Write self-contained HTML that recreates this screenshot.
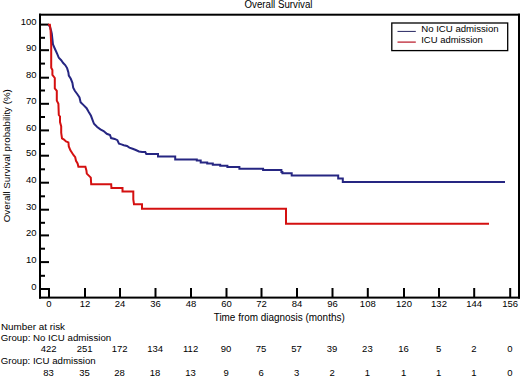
<!DOCTYPE html>
<html><head><meta charset="utf-8"><style>
html,body{margin:0;padding:0;background:#fff;}
body{width:520px;height:376px;overflow:hidden;font-family:"Liberation Sans",sans-serif;}
svg{display:block;}
</style></head><body>
<svg width="520" height="376" viewBox="0 0 520 376">
<rect x="39" y="13.7" width="481" height="2" fill="#000"/>
<rect x="39" y="13.7" width="2" height="284.9" fill="#000"/>
<rect x="39" y="296.6" width="481" height="2" fill="#000"/>
<rect x="518" y="13.7" width="2" height="284.9" fill="#000"/>
<rect x="39" y="288.00" width="10" height="2" fill="#000"/>
<text x="36.6" y="289.50" text-anchor="end" font-size="9.5" fill="#000" font-family="Liberation Sans, sans-serif">0</text>
<rect x="39" y="274.80" width="6" height="2" fill="#000"/>
<rect x="39" y="261.10" width="10" height="2" fill="#000"/>
<text x="36.6" y="262.60" text-anchor="end" font-size="9.5" fill="#000" font-family="Liberation Sans, sans-serif">10</text>
<rect x="39" y="247.70" width="6" height="2" fill="#000"/>
<rect x="39" y="234.40" width="10" height="2" fill="#000"/>
<text x="36.6" y="235.90" text-anchor="end" font-size="9.5" fill="#000" font-family="Liberation Sans, sans-serif">20</text>
<rect x="39" y="221.80" width="6" height="2" fill="#000"/>
<rect x="39" y="208.70" width="10" height="2" fill="#000"/>
<text x="36.6" y="210.20" text-anchor="end" font-size="9.5" fill="#000" font-family="Liberation Sans, sans-serif">30</text>
<rect x="39" y="195.30" width="6" height="2" fill="#000"/>
<rect x="39" y="181.70" width="10" height="2" fill="#000"/>
<text x="36.6" y="183.20" text-anchor="end" font-size="9.5" fill="#000" font-family="Liberation Sans, sans-serif">40</text>
<rect x="39" y="168.30" width="6" height="2" fill="#000"/>
<rect x="39" y="154.70" width="10" height="2" fill="#000"/>
<text x="36.6" y="156.20" text-anchor="end" font-size="9.5" fill="#000" font-family="Liberation Sans, sans-serif">50</text>
<rect x="39" y="142.90" width="6" height="2" fill="#000"/>
<rect x="39" y="129.40" width="10" height="2" fill="#000"/>
<text x="36.6" y="130.90" text-anchor="end" font-size="9.5" fill="#000" font-family="Liberation Sans, sans-serif">60</text>
<rect x="39" y="116.00" width="6" height="2" fill="#000"/>
<rect x="39" y="102.80" width="10" height="2" fill="#000"/>
<text x="36.6" y="104.30" text-anchor="end" font-size="9.5" fill="#000" font-family="Liberation Sans, sans-serif">70</text>
<rect x="39" y="89.50" width="6" height="2" fill="#000"/>
<rect x="39" y="76.70" width="10" height="2" fill="#000"/>
<text x="36.6" y="78.20" text-anchor="end" font-size="9.5" fill="#000" font-family="Liberation Sans, sans-serif">80</text>
<rect x="39" y="62.60" width="6" height="2" fill="#000"/>
<rect x="39" y="49.20" width="10" height="2" fill="#000"/>
<text x="36.6" y="50.70" text-anchor="end" font-size="9.5" fill="#000" font-family="Liberation Sans, sans-serif">90</text>
<rect x="39" y="36.80" width="6" height="2" fill="#000"/>
<rect x="39" y="23.60" width="10" height="2" fill="#000"/>
<text x="36.6" y="25.10" text-anchor="end" font-size="9.5" fill="#000" font-family="Liberation Sans, sans-serif">100</text>
<rect x="48.00" y="288" width="2" height="10" fill="#000"/>
<text x="49.00" y="306.5" text-anchor="middle" font-size="9.5" fill="#000" font-family="Liberation Sans, sans-serif">0</text>
<rect x="84.00" y="288" width="2" height="10" fill="#000"/>
<text x="85.00" y="306.5" text-anchor="middle" font-size="9.5" fill="#000" font-family="Liberation Sans, sans-serif">12</text>
<rect x="119.00" y="288" width="2" height="10" fill="#000"/>
<text x="120.00" y="306.5" text-anchor="middle" font-size="9.5" fill="#000" font-family="Liberation Sans, sans-serif">24</text>
<rect x="154.50" y="288" width="2" height="10" fill="#000"/>
<text x="155.50" y="306.5" text-anchor="middle" font-size="9.5" fill="#000" font-family="Liberation Sans, sans-serif">36</text>
<rect x="190.00" y="288" width="2" height="10" fill="#000"/>
<text x="191.00" y="306.5" text-anchor="middle" font-size="9.5" fill="#000" font-family="Liberation Sans, sans-serif">48</text>
<rect x="225.50" y="288" width="2" height="10" fill="#000"/>
<text x="226.50" y="306.5" text-anchor="middle" font-size="9.5" fill="#000" font-family="Liberation Sans, sans-serif">60</text>
<rect x="260.50" y="288" width="2" height="10" fill="#000"/>
<text x="261.50" y="306.5" text-anchor="middle" font-size="9.5" fill="#000" font-family="Liberation Sans, sans-serif">72</text>
<rect x="296.00" y="288" width="2" height="10" fill="#000"/>
<text x="297.00" y="306.5" text-anchor="middle" font-size="9.5" fill="#000" font-family="Liberation Sans, sans-serif">84</text>
<rect x="331.50" y="288" width="2" height="10" fill="#000"/>
<text x="332.50" y="306.5" text-anchor="middle" font-size="9.5" fill="#000" font-family="Liberation Sans, sans-serif">96</text>
<rect x="366.80" y="288" width="2" height="10" fill="#000"/>
<text x="367.80" y="306.5" text-anchor="middle" font-size="9.5" fill="#000" font-family="Liberation Sans, sans-serif">108</text>
<rect x="403.00" y="288" width="2" height="10" fill="#000"/>
<text x="404.00" y="306.5" text-anchor="middle" font-size="9.5" fill="#000" font-family="Liberation Sans, sans-serif">120</text>
<rect x="438.00" y="288" width="2" height="10" fill="#000"/>
<text x="439.00" y="306.5" text-anchor="middle" font-size="9.5" fill="#000" font-family="Liberation Sans, sans-serif">132</text>
<rect x="473.20" y="288" width="2" height="10" fill="#000"/>
<text x="474.20" y="306.5" text-anchor="middle" font-size="9.5" fill="#000" font-family="Liberation Sans, sans-serif">144</text>
<rect x="509.20" y="288" width="2" height="10" fill="#000"/>
<text x="510.20" y="306.5" text-anchor="middle" font-size="9.5" fill="#000" font-family="Liberation Sans, sans-serif">156</text>
<text x="278.5" y="7.9" text-anchor="middle" font-size="10" fill="#000" textLength="68" lengthAdjust="spacingAndGlyphs" font-family="Liberation Sans, sans-serif">Overall Survival</text>
<text x="279.2" y="320.6" text-anchor="middle" font-size="10" fill="#000" textLength="131" lengthAdjust="spacingAndGlyphs" font-family="Liberation Sans, sans-serif">Time from diagnosis (months)</text>
<text transform="translate(9.6,155.7) rotate(-90)" x="0" y="0" text-anchor="middle" font-size="9.4" fill="#000" textLength="133" lengthAdjust="spacingAndGlyphs" font-family="Liberation Sans, sans-serif">Overall Survival probability (%)</text>
<rect x="391.8" y="23" width="115.9" height="27.6" fill="#fff" stroke="#000" stroke-width="1.3"/>
<rect x="397.5" y="30.9" width="18.3" height="1.1" fill="#3a3a70"/>
<rect x="397.5" y="41.5" width="18.3" height="1.2" fill="#b81424"/>
<text x="421.2" y="32.3" font-size="9.4" fill="#000" textLength="77.5" lengthAdjust="spacingAndGlyphs" font-family="Liberation Sans, sans-serif">No ICU admission</text>
<text x="421.2" y="42.9" font-size="9.4" fill="#000" textLength="61.6" lengthAdjust="spacingAndGlyphs" font-family="Liberation Sans, sans-serif">ICU admission</text>
<polyline points="48.5,24.8 50.0,27.0 51.2,31.0 51.8,33.6 52.4,39.0 53.0,44.5 55.2,49.5 57.2,53.8 58.8,57.8 61.2,60.2 63.2,63.0 65.2,65.0 67.1,68.1 68.4,72.4 68.8,75.6 70.8,78.8 72.4,82.8 73.2,87.6 74.8,90.8 77.2,94.0 79.5,97.5 80.6,102.2 83.8,105.4 86.6,108.2 88.6,111.8 91.0,115.8 92.5,119.8 94.0,123.8 97.2,127.0 100.4,129.4 103.6,131.0 106.8,133.8 110.0,135.0 111.1,138.1 114.7,138.9 117.4,140.2 119.0,143.6 121.4,144.4 123.8,145.2 127.0,146.0 129.4,147.6 132.6,148.8 135.8,150.0 139.0,151.5 142.1,152.0 145.3,152.0 146.3,154.0 158.0,154.0 158.0,156.4 175.2,156.4 175.2,159.4 196.8,159.4 196.8,160.5 200.7,160.5 200.7,162.4 207.2,162.4 207.2,163.5 212.8,163.5 212.8,164.7 220.2,164.7 220.2,165.7 227.4,165.7 227.4,167.1 239.4,167.1 239.4,168.8 263.1,168.8 263.1,169.9 281.4,169.9 281.4,172.1 282.4,172.1 282.4,173.2 291.7,173.2 291.7,175.4 338.2,175.4 338.2,178.6 342.8,178.6 342.8,182.1 505.0,182.1" fill="none" stroke="#262682" stroke-width="2" stroke-linejoin="miter"/>
<polyline points="48.0,24.8 49.9,24.8 50.6,30.6 51.0,40.0 51.2,45.0 51.2,67.7 52.4,70.0 52.4,74.8 54.8,78.0 54.8,88.4 56.8,90.8 56.8,100.6 58.4,103.8 58.8,115.0 60.0,116.5 60.0,122.1 61.2,126.4 61.2,132.8 62.0,138.4 64.0,139.6 66.0,141.5 68.4,142.4 68.8,146.4 70.4,150.4 72.0,152.8 73.6,155.2 75.2,157.2 76.0,160.8 77.6,163.5 78.4,166.7 85.4,166.7 86.4,170.4 86.8,173.6 88.8,175.6 90.8,177.6 91.2,184.2 111.2,184.2 111.4,188.1 122.5,188.1 122.5,191.4 133.3,191.4 133.3,199.5 134.0,204.2 142.0,204.2 142.0,208.8 286.0,208.8 286.0,223.8 489.0,223.8" fill="none" stroke="#d41010" stroke-width="2" stroke-linejoin="miter"/>
<text x="1" y="329.8" font-size="9.5" fill="#000" textLength="64" lengthAdjust="spacingAndGlyphs" font-family="Liberation Sans, sans-serif">Number at risk</text>
<text x="0.7" y="341.2" font-size="9.7" fill="#000" textLength="110.5" lengthAdjust="spacingAndGlyphs" font-family="Liberation Sans, sans-serif">Group: No ICU admission</text>
<text x="0.7" y="363.7" font-size="9.7" fill="#000" textLength="95" lengthAdjust="spacingAndGlyphs" font-family="Liberation Sans, sans-serif">Group: ICU admission</text>
<text x="48.60" y="352" text-anchor="middle" font-size="9.5" fill="#000" font-family="Liberation Sans, sans-serif">422</text>
<text x="48.60" y="375.8" text-anchor="middle" font-size="9.5" fill="#000" font-family="Liberation Sans, sans-serif">83</text>
<text x="84.60" y="352" text-anchor="middle" font-size="9.5" fill="#000" font-family="Liberation Sans, sans-serif">251</text>
<text x="84.60" y="375.8" text-anchor="middle" font-size="9.5" fill="#000" font-family="Liberation Sans, sans-serif">35</text>
<text x="119.60" y="352" text-anchor="middle" font-size="9.5" fill="#000" font-family="Liberation Sans, sans-serif">172</text>
<text x="119.60" y="375.8" text-anchor="middle" font-size="9.5" fill="#000" font-family="Liberation Sans, sans-serif">28</text>
<text x="155.10" y="352" text-anchor="middle" font-size="9.5" fill="#000" font-family="Liberation Sans, sans-serif">134</text>
<text x="155.10" y="375.8" text-anchor="middle" font-size="9.5" fill="#000" font-family="Liberation Sans, sans-serif">18</text>
<text x="190.60" y="352" text-anchor="middle" font-size="9.5" fill="#000" font-family="Liberation Sans, sans-serif">112</text>
<text x="190.60" y="375.8" text-anchor="middle" font-size="9.5" fill="#000" font-family="Liberation Sans, sans-serif">13</text>
<text x="226.10" y="352" text-anchor="middle" font-size="9.5" fill="#000" font-family="Liberation Sans, sans-serif">90</text>
<text x="226.10" y="375.8" text-anchor="middle" font-size="9.5" fill="#000" font-family="Liberation Sans, sans-serif">9</text>
<text x="261.10" y="352" text-anchor="middle" font-size="9.5" fill="#000" font-family="Liberation Sans, sans-serif">75</text>
<text x="261.10" y="375.8" text-anchor="middle" font-size="9.5" fill="#000" font-family="Liberation Sans, sans-serif">6</text>
<text x="296.60" y="352" text-anchor="middle" font-size="9.5" fill="#000" font-family="Liberation Sans, sans-serif">57</text>
<text x="296.60" y="375.8" text-anchor="middle" font-size="9.5" fill="#000" font-family="Liberation Sans, sans-serif">3</text>
<text x="332.10" y="352" text-anchor="middle" font-size="9.5" fill="#000" font-family="Liberation Sans, sans-serif">39</text>
<text x="332.10" y="375.8" text-anchor="middle" font-size="9.5" fill="#000" font-family="Liberation Sans, sans-serif">2</text>
<text x="367.40" y="352" text-anchor="middle" font-size="9.5" fill="#000" font-family="Liberation Sans, sans-serif">23</text>
<text x="367.40" y="375.8" text-anchor="middle" font-size="9.5" fill="#000" font-family="Liberation Sans, sans-serif">1</text>
<text x="403.60" y="352" text-anchor="middle" font-size="9.5" fill="#000" font-family="Liberation Sans, sans-serif">16</text>
<text x="403.60" y="375.8" text-anchor="middle" font-size="9.5" fill="#000" font-family="Liberation Sans, sans-serif">1</text>
<text x="438.60" y="352" text-anchor="middle" font-size="9.5" fill="#000" font-family="Liberation Sans, sans-serif">5</text>
<text x="438.60" y="375.8" text-anchor="middle" font-size="9.5" fill="#000" font-family="Liberation Sans, sans-serif">1</text>
<text x="473.80" y="352" text-anchor="middle" font-size="9.5" fill="#000" font-family="Liberation Sans, sans-serif">2</text>
<text x="473.80" y="375.8" text-anchor="middle" font-size="9.5" fill="#000" font-family="Liberation Sans, sans-serif">1</text>
<text x="509.80" y="352" text-anchor="middle" font-size="9.5" fill="#000" font-family="Liberation Sans, sans-serif">0</text>
<text x="509.80" y="375.8" text-anchor="middle" font-size="9.5" fill="#000" font-family="Liberation Sans, sans-serif">0</text>
</svg>
</body></html>
